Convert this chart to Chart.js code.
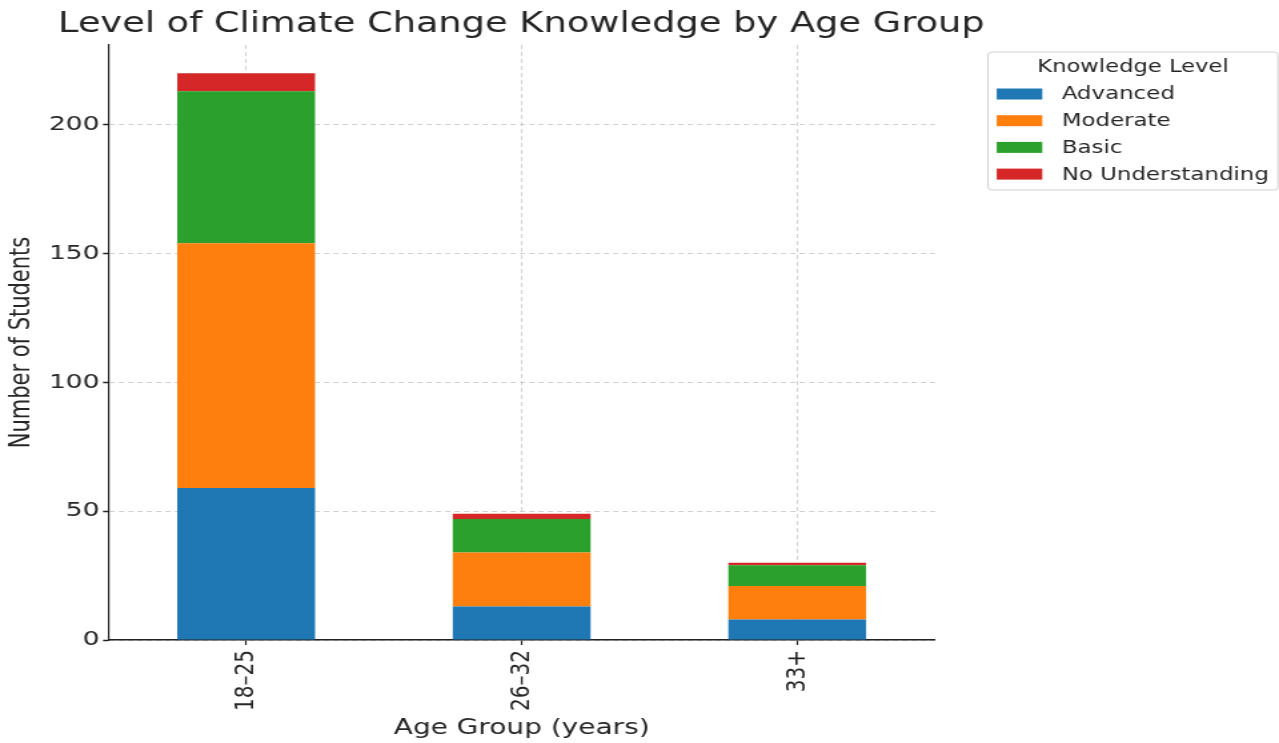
<!DOCTYPE html>
<html>
<head>
<meta charset="utf-8">
<script src="https://cdn.jsdelivr.net/npm/chart.js@4/dist/chart.umd.min.js"></script>
<style>
	html, body { margin: 0; padding: 0; background: #fff; overflow: hidden; }
	#wrap { width: 960px; height: 743px; transform: scale(1.3323, 1); transform-origin: 0 0; }
	canvas { display: block; }
</style>
</head>
<body>
<div id="wrap"><canvas id="chart" width="960" height="743" style="width: 960px; height: 743px"></canvas></div>
<script>
const ageGroups = ["18–25", "26–32", "33+"];
const knowledgeLevels = ["Advanced", "Moderate", "Basic", "No Understanding"];
const advanced = [59, 13, 8];
const moderate = [95, 21, 13];
const basic = [59, 13, 8];
const noUnderstanding = [7, 2, 1];
const yTicks = [0, 50, 100, 150, 200];

const colors = ["#1f77b4", "#ff7f0e", "#2ca02c", "#d62728"];
const seriesValues = [advanced, moderate, basic, noUnderstanding];
const textColor = "#262626";
const font = "'DejaVu Sans', sans-serif";

// title + boxed legend, drawn on the canvas
const decorations = {
	id: "decorations",
	afterDraw(chart) {
		const ctx = chart.ctx;
		ctx.save();
		ctx.fillStyle = textColor;
		ctx.font = `27.6px ${font}`;
		ctx.textAlign = "left";
		ctx.textBaseline = "alphabetic";
		ctx.fillText("Level of Climate Change Knowledge by Age Group", 43.5, 31.5);

		// legend box
		const bx = 741.6, by = 52, bw = 217.6, bh = 138;
		ctx.strokeStyle = "#d0d0d0";
		ctx.lineWidth = 1;
		ctx.beginPath();
		ctx.roundRect(bx, by, bw, bh, 3);
		ctx.stroke();

		ctx.font = `17px ${font}`;
		ctx.textAlign = "center";
		ctx.textBaseline = "middle";
		ctx.fillText("Knowledge Level", bx + bw / 2, 68);

		ctx.textAlign = "left";
		chart.data.datasets.forEach((ds, i) => {
			const cy = 94 + i * 26.7;
			ctx.fillStyle = ds.backgroundColor;
			ctx.fillRect(748.1, cy - 5.5, 34.2, 11);
			ctx.fillStyle = textColor;
			ctx.font = `17.2px ${font}`;
			ctx.fillText(ds.label, 796.9, cy + 1);
		});
		ctx.restore();
	},
};

const datasets = knowledgeLevels.map((label, i) => ({
	label,
	data: seriesValues[i],
	backgroundColor: colors[i],
	borderWidth: 0,
	categoryPercentage: 1,
	barPercentage: 0.5,
}));

new Chart(document.getElementById("chart").getContext("2d"), {
	type: "bar",
	data: { labels: ageGroups, datasets },
	options: {
		responsive: false,
		animation: false,
		layout: { padding: { top: 45, right: 258.2, left: 0, bottom: 0 } },
		plugins: {
			legend: { display: false },
			title: { display: false },
			tooltip: { enabled: false },
		},
		scales: {
			x: {
				stacked: true,
				z: 1,
				afterFit: (scale) => { scale.height = 103; },
				grid: {
					offset: false,
					color: "rgba(176,176,176,0.6)",
					lineWidth: 1,
					tickLength: 5,
					tickColor: "#222",
					tickWidth: 1.2,
					tickBorderDash: [],
				},
				border: { color: "#222", width: 1.5, dash: [4, 3] },
				ticks: {
					color: textColor,
					font: { family: font, size: 20 },
					minRotation: 90,
					maxRotation: 90,
					autoSkip: false,
					padding: 5,
				},
				title: {
					display: true,
					text: "Age Group (years)",
					color: textColor,
					font: { family: font, size: 21 },
					padding: { top: 0, bottom: 2 },
				},
			},
			y: {
				stacked: true,
				z: 1,
				min: 0,
				max: 231,
				afterFit: (scale) => { scale.width = 81.3; },
				afterBuildTicks: (scale) => {
					scale.ticks = yTicks.map((value) => ({ value }));
				},
				grid: {
					color: "rgba(176,176,176,0.6)",
					lineWidth: 1,
					tickLength: 4,
					tickColor: "#222",
					tickWidth: 1.5,
					tickBorderDash: [],
				},
				border: { color: "#222", width: 1.2, dash: [4, 3] },
				ticks: {
					color: textColor,
					font: { family: font, size: 20 },
					padding: 2.5,
				},
				title: {
					display: true,
					text: "Number of Students",
					color: textColor,
					font: { family: font, size: 21 },
					padding: { top: 4, bottom: 0 },
				},
			},
		},
	},
	plugins: [decorations],
});
</script>
</body>
</html>
